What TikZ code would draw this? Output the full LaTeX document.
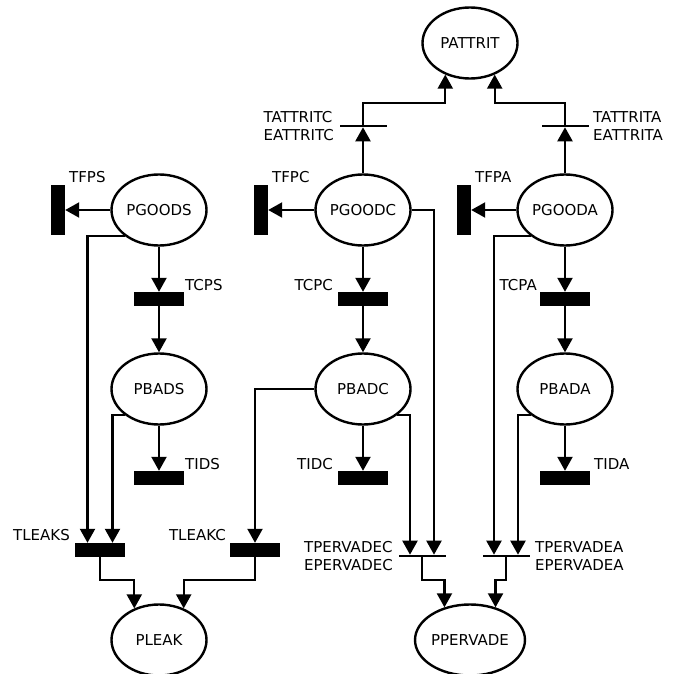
\documentclass[tikz,border=0pt]{standalone}
\usepackage{fontspec}
\setmainfont{DejaVu Sans}
\usetikzlibrary{arrows.meta,shapes.geometric}
\begin{document}
\begin{tikzpicture}[x=1pt,y=-1pt,
  font=\fontsize{15}{18}\selectfont,
  place/.style={ellipse,draw,line width=2.4pt,minimum width=95pt,minimum height=71pt,inner sep=0pt},
  hbar/.style={rectangle,fill=black,minimum width=50pt,minimum height=14pt,inner sep=0pt},
  vbar/.style={rectangle,fill=black,minimum width=14pt,minimum height=50pt,inner sep=0pt},
  tbar/.style={rectangle,fill=black,minimum width=47pt,minimum height=2.2pt,inner sep=0pt},
  lbl/.style={inner sep=0pt},
  arc/.style={line width=2.2pt,-{Triangle[length=14pt,width=15pt]}}
]
\useasboundingbox (0,0) rectangle (694,674);
% places
\node[place] (PATTRIT) at (470,43) {PATTRIT};
\node[place] (PGOODS) at (159,210) {PGOODS};
\node[place] (PGOODC) at (363,210) {PGOODC};
\node[place] (PGOODA) at (565,210) {PGOODA};
\node[place] (PBADS) at (159,389) {PBADS};
\node[place] (PBADC) at (363,389) {PBADC};
\node[place] (PBADA) at (565,389) {PBADA};
\node[place] (PLEAK) at (159,640) {PLEAK};
\node[place] (PPERVADE) at (470,640) {PPERVADE};
% transitions
\node[vbar] (TFPS) at (58,210) {};
\node[vbar] (TFPC) at (261,210) {};
\node[vbar] (TFPA) at (464,210) {};
\node[hbar] (TCPS) at (159,299) {};
\node[hbar] (TCPC) at (363,299) {};
\node[hbar] (TCPA) at (565,299) {};
\node[hbar] (TIDS) at (159,478) {};
\node[hbar] (TIDC) at (363,478) {};
\node[hbar] (TIDA) at (565,478) {};
\node[hbar] (TLEAKS) at (100,550) {};
\node[hbar] (TLEAKC) at (255,550) {};
\node[tbar] (TPERVADEC) at (422,556) {};
\node[tbar] (TPERVADEA) at (506,556) {};
\node[tbar] (TATTRITC) at (363,126) {};
\node[tbar] (TATTRITA) at (565,126) {};
% labels
\node[lbl,anchor=west] (lTFPS) at (69,177) {TFPS};
\node[lbl,anchor=west] (lTFPC) at (272,177) {TFPC};
\node[lbl,anchor=west] (lTFPA) at (475,177) {TFPA};
\node[lbl,anchor=west] (lTCPS) at (185,285) {TCPS};
\node[lbl,anchor=east] (lTCPC) at (333,285) {TCPC};
\node[lbl,anchor=east] (lTCPA) at (537,285) {TCPA};
\node[lbl,anchor=west] (lTIDS) at (185,464) {TIDS};
\node[lbl,anchor=east] (lTIDC) at (333,464) {TIDC};
\node[lbl,anchor=west] (lTIDA) at (594,464) {TIDA};
\node[lbl,anchor=east] (lTLEAKS) at (70,535) {TLEAKS};
\node[lbl,anchor=east] (lTLEAKC) at (226,535) {TLEAKC};
\node[lbl,anchor=east,align=left] (lTPERVADEC) at (393,556) {TPERVADEC\\EPERVADEC};
\node[lbl,anchor=west,align=left] (lTPERVADEA) at (535,556) {TPERVADEA\\EPERVADEA};
\node[lbl,anchor=east,align=left] (lTATTRITC) at (334,126) {TATTRITC\\EATTRITC};
\node[lbl,anchor=west,align=left] (lTATTRITA) at (593,126) {TATTRITA\\EATTRITA};
% arcs: S column
\draw[arc] (PGOODS.west) -- (TFPS.east);
\draw[arc] (PGOODS.south) -- (TCPS.north);
\draw[arc] (TCPS.south) -- (PBADS.north);
\draw[arc] (PBADS.south) -- (TIDS.north);
\draw[arc] (PGOODS.south west) -| ([xshift=-12.5pt]TLEAKS.north);
\draw[arc] (PBADS.south west) -| ([xshift=12.5pt]TLEAKS.north);
\draw[arc] (TLEAKS.south) -- ++(0,23) -| (PLEAK.128);
% C column
\draw[arc] (PGOODC.west) -- (TFPC.east);
\draw[arc] (PGOODC.south) -- (TCPC.north);
\draw[arc] (TCPC.south) -- (PBADC.north);
\draw[arc] (PBADC.south) -- (TIDC.north);
\draw[arc] (PBADC.west) -| (TLEAKC.north);
\draw[arc] (TLEAKC.south) -- ++(0,23) -| (PLEAK.52);
\draw[arc] (PGOODC.north) -- (TATTRITC.south);
\draw[arc] (TATTRITC.north) -- ++(0,-22) -| (PATTRIT.232);
\draw[arc] (PGOODC.east) -| ([xshift=12pt]TPERVADEC.north);
\draw[arc] (PBADC.south east) -| ([xshift=-12pt]TPERVADEC.north);
\draw[arc] (TPERVADEC.south) -- ++(0,23) -| (PPERVADE.128);
% A column
\draw[arc] (PGOODA.west) -- (TFPA.east);
\draw[arc] (PGOODA.south) -- (TCPA.north);
\draw[arc] (TCPA.south) -- (PBADA.north);
\draw[arc] (PBADA.south) -- (TIDA.north);
\draw[arc] (PGOODA.north) -- (TATTRITA.south);
\draw[arc] (TATTRITA.north) -- ++(0,-22) -| (PATTRIT.308);
\draw[arc] (PGOODA.south west) -| ([xshift=-12pt]TPERVADEA.north);
\draw[arc] (PBADA.south west) -| ([xshift=12pt]TPERVADEA.north);
\draw[arc] (TPERVADEA.south) -- ++(0,23) -| (PPERVADE.52);
\end{tikzpicture}
\end{document}
